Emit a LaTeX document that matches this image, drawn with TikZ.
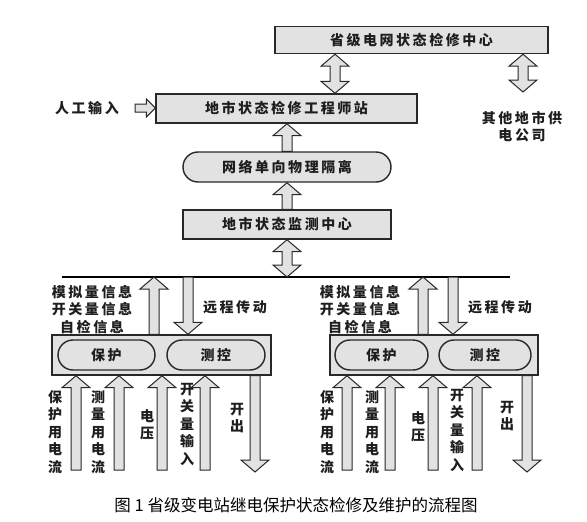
\documentclass[tikz,border=0pt]{standalone}
\usepackage{fontspec}
\usetikzlibrary{calc}
\newfontfamily\dfont[LetterSpace=18]{Noto Sans CJK SC}
\newfontfamily\vfont{Noto Sans CJK SC}
\definecolor{bfill}{RGB}{226,226,226}
\definecolor{bline}{RGB}{40,40,40}
\definecolor{tcol}{RGB}{30,30,30}
\tikzset{
  box/.style={draw=bline, fill=bfill, line width=1.4pt, inner sep=0pt,
    font=\dfont\bfseries\fontsize{14}{17}\selectfont, text=tcol},
  pill/.style={box, rounded corners=15pt},
  blk/.style={draw=bline, fill=bfill, line width=1pt, line join=miter},
  lbl/.style={font=\dfont\bfseries\fontsize{14}{17.5}\selectfont, align=center, inner sep=0pt, text=tcol},
  vlbl/.style={font=\vfont\bfseries\fontsize{14}{17.5}\selectfont, align=center, inner sep=0pt, text=tcol},
  captext/.style={font=\vfont\fontsize{16.5}{18}\selectfont, inner sep=0pt, text=black},
}
% up arrow: #1 tail, #2 tip (tip above tail)
\newcommand\uparr[2]{\draw[blk] let \p1=(#1),\p2=(#2) in
  ({\x1-5pt},\y1) -- ({\x1-5pt},{\y2-12pt}) -- ({\x1-14pt},{\y2-12pt}) -- (\x1,\y2)
  -- ({\x1+14pt},{\y2-12pt}) -- ({\x1+5pt},{\y2-12pt}) -- ({\x1+5pt},\y1) -- cycle;}
% down arrow: #1 tail, #2 tip (tip below tail)
\newcommand\dnarr[2]{\draw[blk] let \p1=(#1),\p2=(#2) in
  ({\x1-5pt},\y1) -- ({\x1-5pt},{\y2+12pt}) -- ({\x1-14pt},{\y2+12pt}) -- (\x1,\y2)
  -- ({\x1+14pt},{\y2+12pt}) -- ({\x1+5pt},{\y2+12pt}) -- ({\x1+5pt},\y1) -- cycle;}
% double vertical arrow: #1 top tip, #2 bottom tip
\newcommand\dblarr[2]{\draw[blk] let \p1=(#1),\p2=(#2) in
  (\x1,\y1) -- ({\x1+14pt},{\y1-12pt}) -- ({\x1+5pt},{\y1-12pt}) -- ({\x1+5pt},{\y2+12pt})
  -- ({\x1+14pt},{\y2+12pt}) -- (\x1,\y2) -- ({\x1-14pt},{\y2+12pt}) -- ({\x1-5pt},{\y2+12pt})
  -- ({\x1-5pt},{\y1-12pt}) -- ({\x1-14pt},{\y1-12pt}) -- cycle;}
% right arrow: #1 tail, #2 tip
\newcommand\rarr[2]{\draw[blk] let \p1=(#1),\p2=(#2) in
  (\x1,{\y1+4pt}) -- ({\x2-9pt},{\y1+4pt}) -- ({\x2-9pt},{\y1+9pt}) -- (\x2,\y1)
  -- ({\x2-9pt},{\y1-9pt}) -- ({\x2-9pt},{\y1-4pt}) -- (\x1,{\y1-4pt}) -- cycle;}

\begin{document}
\begin{tikzpicture}[x=1pt,y=-1pt]
\useasboundingbox[fill=white] (0,0) rectangle (587,522);

% ---------- upper part ----------
\node[box, minimum width=273pt, minimum height=27pt] (top) at (411.5,40) {省级电网状态检修中心};
\node[box, minimum width=261pt, minimum height=29pt] (eng) at (286.5,108.5) {地市状态检修工程师站};
\node[pill, minimum width=208pt, minimum height=30pt] (iso) at (287,167) {网络单向物理隔离};
\node[box, minimum width=208pt, minimum height=29pt] (mon) at (287,224.5) {地市状态监测中心};
\node[lbl] (inp) at (87,108) {人工输入};
\node[lbl] (oth) at (522,126.5) {其他地市供\\电公司};

\coordinate (inpT) at (135,108);
\coordinate (xtop) at (335,0);
\coordinate (oend) at (523,92);
\coordinate (busL) at (62,277);
\coordinate (busR) at (510,277);
\coordinate (xmid) at (287,277);

\rarr{inpT}{inpT -| eng.west}
\dblarr{top.south -| xtop}{eng.north -| xtop}
\dblarr{top.south -| oend}{oend}
\uparr{iso.north}{eng.south}
\uparr{mon.north}{iso.south}

% bus
\draw[draw=black, line width=1.6pt] (busL) -- (busR);
\dblarr{mon.south}{xmid}

% ---------- left device ----------
\node[box, minimum width=219pt, minimum height=40pt] (devL) at (161.5,355) {};
\node[pill, minimum width=97pt, minimum height=30pt] (bhL) at (106.5,355) {保护};
\node[pill, minimum width=98pt, minimum height=30pt] (ckL) at (216,355) {测控};

\coordinate (upL) at (154,277);
\coordinate (dnL) at (188,277);
\uparr{upL |- devL.north}{upL}
\dnarr{dnL}{dnL |- devL.north}
\node[lbl] (infL) at (92,309.5) {模拟量信息\\开关量信息\\自检信息};
\node[lbl] (ycL) at (235,307) {远程传动};

\coordinate (aL1) at (76,470);
\coordinate (aL2) at (119,470);
\coordinate (aL3) at (162,470);
\coordinate (aL4) at (205,470);
\coordinate (aL5) at (255,472);
\uparr{aL1}{aL1 |- devL.south}
\uparr{aL2}{aL2 |- devL.south}
\uparr{aL3}{aL3 |- devL.south}
\uparr{aL4}{aL4 |- devL.south}
\dnarr{aL5 |- devL.south}{aL5}

\node[vlbl] (lL1) at (55,432) {保\\护\\用\\电\\流};
\node[vlbl] (lL2) at (98,432) {测\\量\\用\\电\\流};
\node[vlbl] (lL3) at (147,425) {电\\压};
\node[vlbl] (lL4) at (187,424) {开\\关\\量\\输\\入};
\node[vlbl] (lL5) at (237,418) {开\\出};

% ---------- right device ----------
\node[box, minimum width=208pt, minimum height=40pt] (devR) at (434,355) {};
\node[pill, minimum width=93pt, minimum height=30pt] (bhR) at (381.5,355) {保护};
\node[pill, minimum width=92pt, minimum height=30pt] (ckR) at (485,355) {测控};

\coordinate (upR) at (423,277);
\coordinate (dnR) at (453,277);
\uparr{upR |- devR.north}{upR}
\dnarr{dnR}{dnR |- devR.north}
\node[lbl] (infR) at (360,309.5) {模拟量信息\\开关量信息\\自检信息};
\node[lbl] (ycR) at (500,307) {远程传动};

\coordinate (aR1) at (347,470);
\coordinate (aR2) at (390,470);
\coordinate (aR3) at (433,470);
\coordinate (aR4) at (477,470);
\coordinate (aR5) at (527,472);
\uparr{aR1}{aR1 |- devR.south}
\uparr{aR2}{aR2 |- devR.south}
\uparr{aR3}{aR3 |- devR.south}
\uparr{aR4}{aR4 |- devR.south}
\dnarr{aR5 |- devR.south}{aR5}

\node[vlbl] (lR1) at (327,432) {保\\护\\用\\电\\流};
\node[vlbl] (lR2) at (372,432) {测\\量\\用\\电\\流};
\node[vlbl] (lR3) at (418,427) {电\\压};
\node[vlbl] (lR4) at (457,430) {开\\关\\量\\输\\入};
\node[vlbl] (lR5) at (507,416) {开\\出};

% ---------- caption ----------
\node[captext] (caption) at (296,505) {图 1 省级变电站继电保护状态检修及维护的流程图};
\end{tikzpicture}
\end{document}
